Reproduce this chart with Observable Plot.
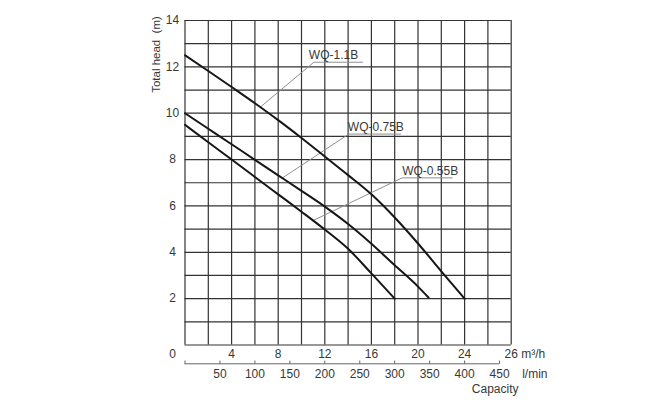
<!DOCTYPE html>
<html><head><meta charset="utf-8">
<script src="https://cdn.jsdelivr.net/npm/d3@7"></script>
<script src="https://cdn.jsdelivr.net/npm/@observablehq/plot@0.6"></script>
<style>body{margin:0;background:#fff;} #chart{width:668px;height:400px;}</style>
</head><body><div id="chart"></div>
<script>
// ---- data (capacity in m³/h, head in m) ----
const seriesNames = ["WQ-1.1B", "WQ-0.75B", "WQ-0.55B"];
const flow11 = [0, 2, 4, 6, 8, 10, 12, 14, 16, 18, 20, 22, 24];
const head11 = [12.5, 11.82, 11.13, 10.43, 9.7, 8.93, 8.13, 7.33, 6.5, 5.5, 4.38, 3.18, 2.0];
const flow075 = [0, 2, 4, 6, 8, 10, 12, 14, 16, 18, 20, 20.9];
const head075 = [10, 9.33, 8.66, 7.99, 7.32, 6.65, 5.97, 5.22, 4.37, 3.44, 2.52, 2.05];
const flow055 = [0, 2, 4, 6, 8, 10, 12, 14, 16, 18];
const head055 = [9.5, 8.75, 8.0, 7.25, 6.5, 5.75, 4.98, 4.15, 3.09, 2.0];

// label leader lines: point on curve, elbow, end of underline (x)
const leaderFrom = [[6.48, 10.27], [8.34, 7.2], [11.0, 5.37]];
const leaderCorner = [[11.06, 12.2], [14.06, 9.1], [18.64, 7.21]];
const leaderEndX = [15.24, 18.5, 22.94];

// axes
const xGrid = [0, 2, 4, 6, 8, 10, 12, 14, 16, 18, 20, 22, 24, 26, 28];
const yGrid = [0, 1, 2, 3, 4, 5, 6, 7, 8, 9, 10, 11, 12, 13, 14];
const yTickLabels = [2, 4, 6, 8, 10, 12, 14];
const xTickLabels = [4, 8, 12, 16, 20, 24];
const originLabel = "0";
const xEndLabel = "26 m³/h";
const lpmTicks = [0, 50, 100, 150, 200, 250, 300, 350, 400, 450];
const lpmLabels = [50, 100, 150, 200, 250, 300, 350, 400, 450];
const lpmUnit = "l/min";
const xTitle = "Capacity";
const yTitle = "Total head\u00a0\u00a0(m)";
const LPM_TO_M3H = 60 / 1000;

// ---- tables ----
const curves = [];
[[flow11, head11], [flow075, head075], [flow055, head055]].forEach(([f, h], i) => {
  f.forEach((x, j) => curves.push({series: seriesNames[i], flow: x, head: h[j]}));
});
const leaders = [];
seriesNames.forEach((s, i) => {
  leaders.push({s, x: leaderFrom[i][0], y: leaderFrom[i][1]});
  leaders.push({s, x: leaderCorner[i][0], y: leaderCorner[i][1]});
  leaders.push({s, x: leaderEndX[i], y: leaderCorner[i][1]});
});
const labelDx = [-5, -1, 0];
const labels = seriesNames.map((s, i) => ({s, x: leaderCorner[i][0], y: leaderCorner[i][1], dx: labelDx[i]}));

const txt = "#383838";
const chart = Plot.plot({
  width: 668, height: 400,
  marginLeft: 184.5, marginRight: 157.3, marginTop: 20, marginBottom: 55.5,
  x: {domain: [0, 28], axis: null},
  y: {domain: [0, 14], axis: null},
  style: {fontFamily: "'Liberation Sans', Arial, sans-serif", fontSize: "12px", color: txt, background: "#fff"},
  marks: [
    Plot.ruleX(xGrid, {x: d => d, stroke: "#333", strokeWidth: 1.2, strokeOpacity: 1}),
    Plot.ruleY(yGrid, {y: d => d, stroke: "#333", strokeWidth: 1.2, strokeOpacity: 1}),
    Plot.line(leaders, {x: "x", y: "y", z: "s", stroke: "#8f8f8f", strokeWidth: 1}),
    Plot.line(curves, {x: "flow", y: "head", z: "series", stroke: "#161616", strokeWidth: 2, curve: "monotone-x"}),
    ...labels.map(l => Plot.text([l], {x: "x", y: "y", text: "s", dx: l.dx, dy: -6.7, textAnchor: "start", lineAnchor: "middle", fill: txt, fontSize: 12})),
    // y tick labels
    Plot.text(yTickLabels, {x: 0, y: d => d, text: d => String(d), dx: -12.5, textAnchor: "middle", lineAnchor: "middle", fill: txt, fontSize: 12}),
    Plot.text([originLabel], {x: 0, y: 0, text: d => d, dx: -12.5, dy: 8.8, textAnchor: "middle", lineAnchor: "middle", fill: txt, fontSize: 12}),
    // x tick labels (m³/h)
    Plot.text(xTickLabels, {x: d => d, y: 0, text: d => String(d), dy: 8.8, textAnchor: "middle", lineAnchor: "middle", fill: txt, fontSize: 12}),
    Plot.text([xEndLabel], {x: 28, y: 0, text: d => d, dx: -6.7, dy: 8.8, textAnchor: "start", lineAnchor: "middle", fill: txt, fontSize: 12}),
    // l/min axis
    Plot.ruleY([0], {x1: 0, x2: lpmTicks[lpmTicks.length - 1] * LPM_TO_M3H, dy: 18.8, stroke: "#666", strokeWidth: 1}),
    Plot.link(lpmTicks, {x1: d => d * LPM_TO_M3H, x2: d => d * LPM_TO_M3H, y1: 0, y2: 0.14, dy: 18.8, stroke: "#666", strokeWidth: 1}),
    Plot.text(lpmLabels, {x: d => d * LPM_TO_M3H, y: 0, text: d => String(d), dy: 29.5, textAnchor: "middle", lineAnchor: "middle", fill: txt, fontSize: 12}),
    Plot.text([lpmUnit], {x: 28, y: 0, text: d => d, dx: 11, dy: 29.2, textAnchor: "start", lineAnchor: "middle", fill: txt, fontSize: 12}),
    Plot.text([xTitle], {x: 28, y: 0, text: d => d, dx: -16, dy: 43.8, textAnchor: "middle", lineAnchor: "middle", fill: txt, fontSize: 12}),
    Plot.text([yTitle], {frameAnchor: "top-left", text: d => d, dx: -28.5, dy: 34, rotate: -90, textAnchor: "middle", lineAnchor: "middle", fill: txt, fontSize: 11.5})
  ]
});
document.getElementById("chart").appendChild(chart);
</script>
</body></html>
